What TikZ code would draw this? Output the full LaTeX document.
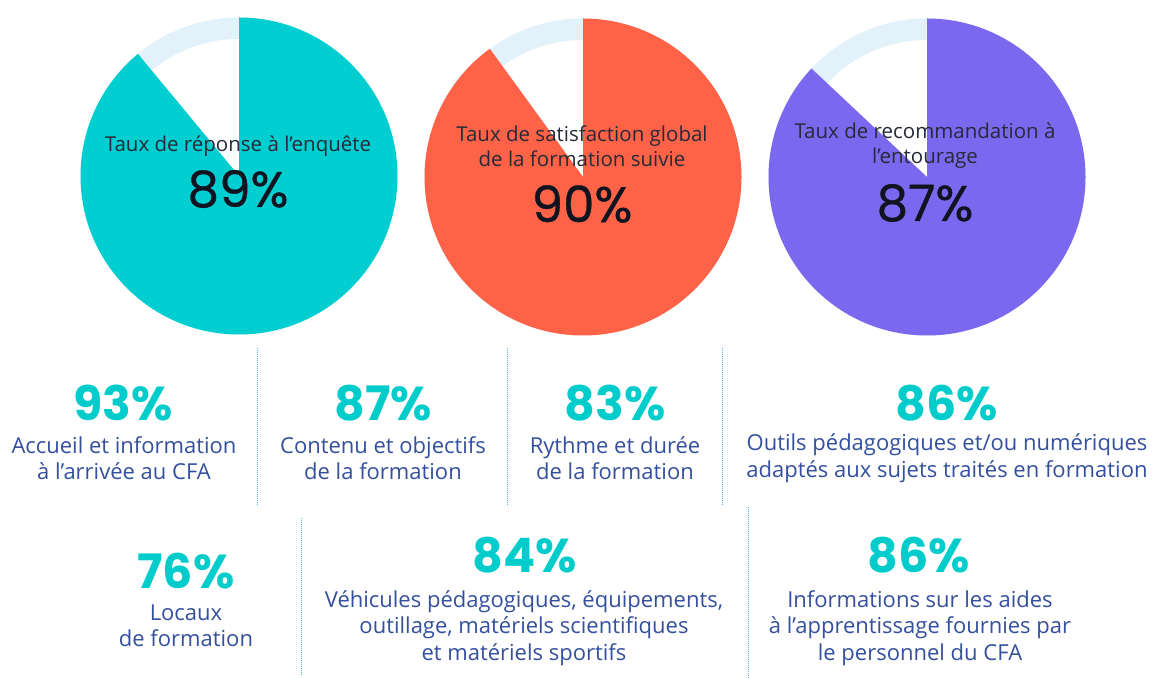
\documentclass[tikz,border=0pt]{standalone}
\usepackage{fontspec}
\setmainfont{Open Sans}
\newfontfamily\numfont{Poppins}
\newfontfamily\nummed[FakeBold=0.7]{Poppins}
\definecolor{pteal}{HTML}{00CED1}
\definecolor{porange}{HTML}{FF6347}
\definecolor{ppurple}{HTML}{7B68EE}
\definecolor{ring}{HTML}{E3F1FA}
\definecolor{numteal}{HTML}{00CCCC}
\definecolor{lblue}{HTML}{34509E}
\definecolor{pietext}{HTML}{262A38}
\definecolor{numdark}{HTML}{0F1420}
\definecolor{divc}{HTML}{4DB2E6}
\tikzset{
  pielabel/.style={text=pietext, align=center, font=\fontsize{20.5}{25}\selectfont, inner sep=0pt},
  pienum/.style={text=numdark, font=\nummed\fontsize{50}{50}\selectfont, inner sep=0pt},
  statnum/.style={text=numteal, font=\numfont\bfseries\fontsize{47.5}{47.5}\selectfont, inner sep=0pt},
  statlabel/.style={text=lblue, align=center, font=\fontsize{22}{26.5}\selectfont, inner sep=0pt},
  divider/.style={draw=divc, line width=0.9pt, dash pattern=on 0.9pt off 1.1pt}
}
\begin{document}
\begin{tikzpicture}[x=1pt,y=1pt]
\useasboundingbox (0,0) rectangle (1155,679);
\fill[white] (0,0) rectangle (1155,679);
% pies
\coordinate (c1) at (239,503);
\coordinate (c2) at (583,502);
\coordinate (c3) at (927,502);
\foreach \c/\col/\ea in {c1/pteal/-230.4, c2/porange/-234, c3/ppurple/-223.2}{
  \fill[ring, even odd rule] (\c) circle[radius=158.5] (\c) circle[radius=137];
  \fill[\col] (\c) -- ++(90:158.5) arc[start angle=90, end angle=\ea, radius=158.5] -- cycle;
}
\node[pielabel] (l1) at (238,533) {Taux de réponse à l'enquête};
\node[pienum] (n1) at (238,490) {89\%};
\node[pielabel] (l2) at (582,533) {Taux de satisfaction global\\de la formation suivie};
\node[pienum] (n2) at (582,475) {90\%};
\node[pielabel] (l3) at (925,533) {Taux de recommandation à\\l'entourage};
\node[pienum] (n3) at (925,476) {87\%};
% dividers
\draw[divider] (257,331) -- (257,174);
\draw[divider] (507,331) -- (507,174);
\draw[divider] (722,331) -- (722,174);
\draw[divider] (301,161) -- (301,4);
\draw[divider] (748,172) -- (748,0);
% row 1
\node[statnum] (sa) at (123,276) {93\%};
\node[statlabel] (ta) at (124,221) {Accueil et information\\à l'arrivée au CFA};
\node[statnum] (sb) at (383,276) {87\%};
\node[statlabel] (tb) at (383,221) {Contenu et objectifs\\de la formation};
\node[statnum] (sc) at (615,276) {83\%};
\node[statlabel] (tc) at (615,221) {Rythme et durée\\de la formation};
\node[statnum] (sd) at (947,276) {86\%};
\node[statlabel] (td) at (947,221) {Outils pédagogiques et/ou numériques\\adaptés aux sujets traités en formation};
% row 2
\node[statnum] (se) at (186,108) {76\%};
\node[statlabel] (te) at (186,53) {Locaux\\de formation};
\node[statnum] (sf) at (525,124) {84\%};
\node[statlabel] (tf) at (524,51) {Véhicules pédagogiques, équipements,\\outillage, matériels scientifiques\\et matériels sportifs};
\node[statnum] (sg) at (919,124) {86\%};
\node[statlabel] (tg) at (920,51) {Informations sur les aides\\à l'apprentissage fournies par\\le personnel du CFA};
\end{tikzpicture}
\end{document}
